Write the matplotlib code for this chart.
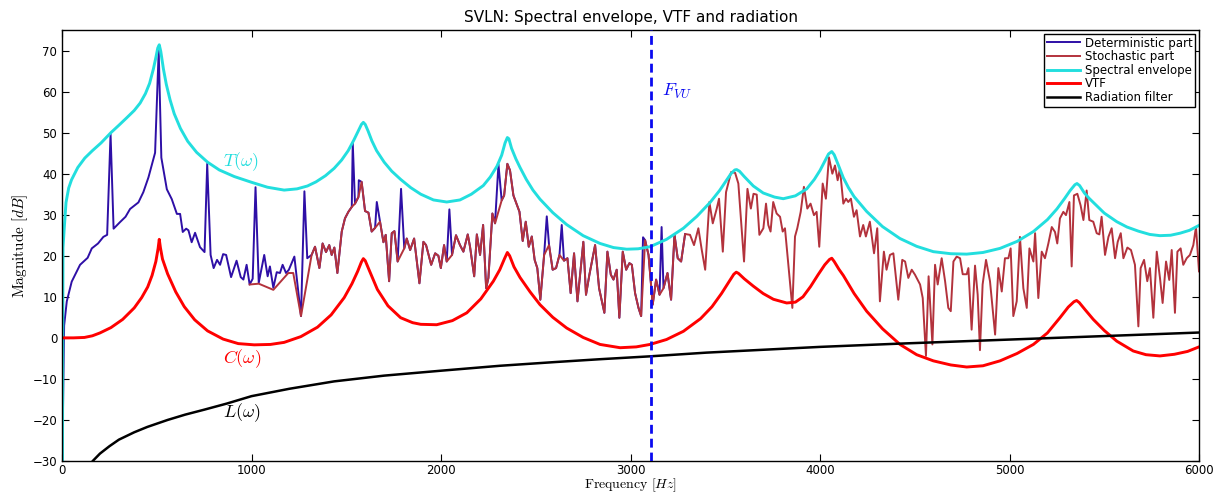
import numpy as np
import matplotlib
matplotlib.use('Agg')
import matplotlib.pyplot as plt

plt.rcParams['font.family'] = ['DejaVu Sans']
plt.rcParams['mathtext.fontset'] = 'cm'

# voiced/unvoiced limit frequency [Hz]
F_VU = 3110

# deterministic part below 1320 Hz (Hz, dB)
det_low = [(0, -35), (11, 3), (25, 8.9), (51, 13.7), (95, 17.8), (135, 19.5), (157, 21.8),
           (190, 23), (218, 24.6), (238, 25.1), (256, 49.7), (272, 26.6), (306, 28.2),
           (335, 29.5), (359, 31.4), (403, 33), (429, 35.5), (456, 39.1), (491, 45.1),
           (510, 70), (524, 43.9), (553, 36.2), (579, 33.8), (606, 30.2), (623, 30.2),
           (637, 25.8), (655, 26.6), (667, 26.2), (684, 23.3), (702, 25.6), (728, 22.1),
           (752, 20.9), (766, 42.4), (784, 20.2), (800, 17), (818, 19), (834, 17.8),
           (850, 20.4), (866, 20.2), (892, 14.8), (921, 18.8), (943, 14.8), (957, 14.2),
           (974, 17.8), (990, 13), (1006, 14.4), (1021, 36.7), (1038, 13.4), (1067, 20.2),
           (1085, 15), (1097, 17.4), (1115, 12.2), (1133, 16), (1150, 15.8), (1164, 17.8),
           (1182, 15.8), (1197, 16.6), (1226, 19.8), (1261, 5.3), (1279, 35.7), (1294, 19.4),
           (1317, 20.2)]

# harmonic peaks of the deterministic part above 1320 Hz
det_peaks = [(1534, 47.6), (1566, 38.4), (1661, 33.1), (1789, 36.3), (2044, 31.3),
             (2303, 42.3), (2558, 29.6), (2637, 27.5), (3066, 24.5), (3164, 27)]

# stochastic part (Hz, dB)
stoch = [(990, 13), (1038, 13.2), (1115, 11.7), (1194, 15.8), (1220, 15.8), (1261, 5.3),
         (1317, 20.2), (1335, 22.2), (1358, 17), (1375, 23), (1393, 20.9), (1410, 22.6),
         (1423, 20.2), (1437, 22), (1453, 15.8), (1476, 25.9), (1493, 29.1), (1511, 30.7),
         (1529, 31.9), (1546, 32.7), (1564, 34.3), (1581, 38), (1599, 30.9), (1617, 30.5),
         (1634, 25.9), (1652, 26.8), (1678, 28.3), (1696, 23.3), (1708, 25.1), (1726, 13.8),
         (1740, 25.5), (1754, 26), (1771, 18.6), (1806, 21.8), (1819, 24.2), (1837, 21.4),
         (1858, 24.2), (1886, 13.3), (1907, 23.4), (1921, 22.6), (1948, 17.8), (1969, 20.6),
         (1986, 20), (1999, 17), (2016, 22.6), (2030, 18.6), (2058, 20.2), (2079, 25),
         (2100, 22.6), (2118, 21), (2141, 25.2), (2153, 22.2), (2175, 15), (2189, 25.2),
         (2206, 20.2), (2222, 27.5), (2238, 12.1), (2250, 14.6), (2271, 30.3), (2285, 27.9),
         (2320, 33.5), (2333, 34.7), (2350, 42.4), (2364, 40.8), (2382, 34.7), (2414, 30.7),
         (2431, 23.6), (2447, 28.3), (2463, 22.2), (2479, 24.7), (2494, 19), (2508, 17),
         (2524, 9.3), (2544, 20.2), (2570, 22.6), (2589, 16.6), (2607, 17), (2625, 20.2),
         (2649, 18.8), (2667, 19.4), (2684, 10.9), (2702, 20.6), (2720, 8.9), (2751, 23.4),
         (2765, 10.5), (2783, 15.4), (2813, 22.6), (2834, 12.1), (2862, 6.1), (2878, 21),
         (2896, 15.4), (2910, 14.2), (2927, 16.6), (2941, 4.9), (2959, 21), (2977, 16.6),
         (2994, 18.2), (3007, 17.8), (3024, 10.9), (3042, 7.3), (3056, 5.3), (3077, 23.8),
         (3095, 20.2), (3117, 8.1), (3135, 14.2), (3153, 10.5), (3174, 12.1), (3195, 15.8),
         (3214, 9.3), (3232, 25.1), (3249, 19.4), (3267, 18.6), (3288, 25.3), (3314, 25.1),
         (3335, 22.6), (3358, 26.7), (3376, 21.4), (3394, 16.6), (3416, 33.1), (3434, 27.9),
         (3455, 31.5), (3467, 33.9), (3487, 21), (3504, 35.5), (3531, 40.4), (3552, 40.2),
         (3569, 37.6), (3599, 18.6), (3617, 36.3), (3635, 31.5), (3649, 35.1), (3666, 34.9),
         (3680, 25.1), (3701, 26.7), (3715, 32.7), (3727, 27.5), (3739, 25.9), (3753, 33.1),
         (3771, 30.3), (3789, 29.5), (3803, 25.9), (3815, 26.7), (3854, 7.3), (3868, 24.7),
         (3880, 26.7), (3898, 30.7), (3915, 36.8), (3933, 31.5), (3950, 32.7), (3968, 29.9),
         (3982, 30.7), (3996, 22.2), (4014, 37.6), (4031, 33.9), (4047, 44), (4065, 40),
         (4079, 42), (4093, 38.4), (4105, 41.2), (4123, 32.7), (4137, 33.9), (4149, 33.1),
         (4163, 33.9), (4179, 29.5), (4193, 31.1), (4211, 24.7), (4228, 27.5), (4242, 24.7),
         (4263, 28.3), (4285, 20.6), (4302, 26.7), (4316, 8.9), (4337, 21), (4351, 16.6),
         (4369, 20.2), (4387, 20.6), (4413, 9.3), (4434, 19), (4449, 18.6), (4466, 14.6),
         (4484, 16.6), (4501, 15.4), (4528, 13), (4542, 9.7), (4559, -4.4), (4573, 15),
         (4593, -1.6), (4607, 17.8), (4621, 13), (4642, 19.4), (4660, 13.8), (4677, 7.3),
         (4690, 6.5), (4704, 18.6), (4721, 19.8), (4739, 19.4), (4753, 15.5), (4774, 15.5),
         (4783, 17), (4800, 2), (4818, 17.6), (4832, 10.5), (4844, -3), (4858, 13),
         (4876, 19), (4897, 13.8), (4924, 0.8), (4941, 17), (4959, 11.3), (4976, 19.4),
         (4994, 19.4), (5006, 21.8), (5020, 5.3), (5038, 8.9), (5055, 24.6), (5073, 12.1),
         (5091, 7.3), (5105, 21.8), (5126, 18.6), (5135, 25.5), (5152, 9.7), (5170, 21),
         (5187, 19.4), (5205, 23), (5223, 27), (5240, 25.8), (5252, 23), (5266, 29.1),
         (5284, 30.7), (5298, 29.9), (5316, 33.1), (5328, 17.4), (5340, 34.7), (5358, 35.1),
         (5375, 32.3), (5390, 28.7), (5407, 35.9), (5421, 28.7), (5442, 28.3), (5460, 25.5),
         (5474, 25.2), (5486, 29.5), (5504, 20.2), (5522, 24.6), (5539, 26.7), (5557, 19.4),
         (5571, 23.4), (5587, 25.5), (5601, 19.4), (5622, 22), (5641, 21.4), (5662, 17.8),
         (5680, 2.8), (5692, 17), (5710, 19), (5727, 13.8), (5741, 17), (5759, 4.9),
         (5777, 21), (5794, 14.6), (5808, 8.5), (5826, 18.6), (5843, 14.1), (5856, 21.4),
         (5873, 6.1), (5886, 21), (5903, 21.8), (5917, 17.8), (5935, 19.4), (5952, 20.2),
         (5970, 22.6), (5984, 27), (6000, 16.2)]

# spectral envelope T(w)
envelope = [(2, -35), (5, 22), (12, 27), (21, 33), (35, 36.5), (50, 38.5), (83, 41.5),
            (120, 43.8), (160, 45.6), (206, 47.5), (258, 50), (300, 51.8), (341, 53.6),
            (381, 55.4), (412, 57.2), (440, 59.5), (462, 62), (482, 65.5), (496, 68.5),
            (505, 70.6), (513, 71.4), (521, 69.8), (535, 65.5), (550, 61.8), (570, 58),
            (592, 54.6), (625, 51), (663, 47.9), (710, 45.2), (768, 42.8), (830, 40.9),
            (909, 39.3), (1000, 37.9), (1084, 36.7), (1172, 36), (1240, 36.3), (1295, 37),
            (1340, 38), (1390, 39.5), (1436, 41.3), (1475, 43.3), (1510, 45.6), (1540, 48.2),
            (1565, 50.6), (1580, 52), (1590, 52.5), (1600, 52), (1615, 50.4), (1635, 48),
            (1660, 45.6), (1700, 42.8), (1740, 40.6), (1787, 38.6), (1840, 36.6), (1893, 35),
            (1960, 33.6), (2030, 33.1), (2100, 33.6), (2160, 35), (2223, 37.1), (2260, 39.2),
            (2295, 41.8), (2320, 44.5), (2338, 47.5), (2350, 48.8), (2358, 48.5), (2372, 46.2),
            (2395, 43.6), (2417, 41.5), (2450, 38.6), (2485, 36), (2522, 33.8), (2590, 30.5),
            (2663, 27.6), (2750, 24.9), (2839, 23), (2910, 22), (2980, 21.6), (3040, 21.7),
            (3103, 22.2), (3190, 24), (3279, 26.7), (3350, 29.6), (3420, 33), (3470, 35.9),
            (3505, 38.3), (3530, 40), (3550, 40.9), (3560, 41), (3575, 40.6), (3600, 39.3),
            (3648, 37), (3700, 35.3), (3760, 34.3), (3806, 33.9), (3870, 34.6), (3930, 36.3),
            (3970, 38.6), (4000, 40.8), (4025, 43), (4045, 44.8), (4062, 45.4), (4075, 44.6),
            (4095, 42.3), (4123, 39), (4150, 36.6), (4180, 34.4), (4246, 30.8), (4330, 27.1),
            (4422, 24.2), (4510, 22.3), (4598, 21), (4690, 20.5), (4774, 20.4), (4860, 20.8),
            (4950, 21.8), (5040, 23.5), (5126, 25.9), (5200, 28.8), (5250, 31.4), (5290, 33.9),
            (5320, 35.9), (5345, 37.3), (5356, 37.6), (5370, 37.1), (5395, 35.3), (5420, 34),
            (5442, 33), (5500, 30.4), (5566, 28.3), (5620, 27), (5680, 26), (5740, 25.2),
            (5794, 24.9), (5850, 25), (5900, 25.5), (5950, 26.2), (6000, 27.4)]

# vocal tract filter C(w)
vtf = [(0, 0), (60, 0), (118, 0.1), (160, 0.5), (200, 1.2), (258, 2.5), (320, 4.5), (381, 7.3),
       (420, 9.8), (452, 12.4), (475, 15.2), (495, 18.6), (507, 21.8), (513, 24), (519, 22),
       (530, 19.2), (557, 15.6), (600, 11.2), (645, 7.6), (700, 4.4), (768, 1.7), (850, -0.3),
       (930, -1.4), (1014, -1.7), (1100, -1.6), (1172, -1.1), (1260, 0.3), (1348, 2.6),
       (1420, 5.6), (1489, 9.8), (1530, 13.2), (1560, 16.2), (1580, 18.5), (1590, 19.3),
       (1600, 18.8), (1620, 16.6), (1664, 11.8), (1720, 7.8), (1787, 4.9), (1850, 3.7),
       (1893, 3.3), (1977, 3.2), (2060, 4.2), (2136, 6.1), (2210, 9.5), (2276, 13.8),
       (2310, 16.6), (2335, 19.3), (2350, 20.8), (2362, 20), (2385, 17.3), (2417, 14.7),
       (2470, 11.2), (2522, 8.1), (2590, 5), (2663, 2.4), (2750, 0.1), (2839, -1.6),
       (2945, -2.4), (3030, -2.2), (3103, -1.6), (3190, -0.4), (3279, 1.6), (3370, 4.7),
       (3430, 7.6), (3480, 10.8), (3520, 13.7), (3545, 15.5), (3558, 16), (3570, 15.7),
       (3600, 14.4), (3648, 12.6), (3700, 10.8), (3754, 9.4), (3824, 8.5), (3870, 8.7),
       (3910, 10), (3950, 12.5), (3990, 15.4), (4025, 17.8), (4050, 19.1), (4062, 19.4),
       (4075, 18.6), (4100, 16.7), (4123, 15.2), (4180, 10.8), (4246, 6.5), (4330, 2.2),
       (4422, -1.6), (4510, -4.1), (4598, -5.6), (4690, -6.6), (4774, -7.1), (4860, -6.8),
       (4950, -5.6), (5040, -3.8), (5126, -1.6), (5200, 1.2), (5266, 4.9), (5310, 7.5),
       (5340, 8.8), (5354, 9.1), (5368, 8.6), (5400, 6.8), (5442, 4.5), (5500, 1.8),
       (5566, -0.8), (5653, -3.2), (5720, -4.1), (5794, -4.4), (5870, -4), (5940, -3.3),
       (6000, -2.2)]

# radiation filter L(w)
radiation = [(20, -48), (50, -40), (80, -36), (110, -33.2), (162, -30), (200, -28.2),
             (250, -26.4), (300, -24.8), (381, -23), (450, -21.7), (557, -20), (650, -18.7),
             (750, -17.5), (870, -16), (1000, -14.2), (1200, -12.4), (1436, -10.6),
             (1700, -9.2), (2000, -8), (2311, -6.8), (2600, -5.9), (2839, -5.2), (3103, -4.5),
             (3400, -3.6), (3700, -2.9), (4000, -2.2), (4422, -1.4), (4950, -0.5), (5478, 0.4),
             (6000, 1.3)]


def unzip(pts):
    a = np.array(pts, dtype=float)
    return a[:, 0], a[:, 1]


# deterministic part above 1320 Hz follows the stochastic part plus the harmonic peaks
upper = [p for p in stoch if det_low[-1][0] < p[0] <= 3300] + det_peaks
det = det_low + sorted(upper)

fig = plt.figure(figsize=(12.19, 4.92), dpi=100)
ax = fig.add_axes([0.0509, 0.063, 0.9327, 0.876])

ax.plot(*unzip(det), color='#2e0fa6', lw=1.4, label='Deterministic part')
ax.plot(*unzip(stoch), color='#b3323c', lw=1.4, label='Stochastic part')
ax.plot(*unzip(envelope), color='#22dede', lw=2.1, label='Spectral envelope')
ax.plot(*unzip(vtf), color='#ff0000', lw=2.1, label='VTF')
ax.plot(*unzip(radiation), color='black', lw=1.8, label='Radiation filter')
ax.axvline(F_VU, color='#0a0af0', lw=2.0, ls=(0, (3.2, 1.8)), zorder=5)

ax.text(848, 43, r'$T(\omega)$', color='#22dede', fontsize=13, va='center')
ax.text(848, -5.1, r'$C(\omega)$', color='#ff0000', fontsize=13, va='center')
ax.text(848, -18.1, r'$L(\omega)$', color='black', fontsize=13, va='center')
ax.text(3165, 60, r'$F_{VU}$', color='#0a0af0', fontsize=13, va='center')

ax.set_xlim(0, 6000)
ax.set_ylim(-30, 75)
ax.set_xticks(np.arange(0, 6001, 1000))
ax.set_yticks(np.arange(-30, 71, 10))
ax.tick_params(direction='in', length=5, top=True, right=True, labelsize=8.5)
ax.tick_params(axis='x', pad=2.5)
for s in ax.spines.values():
    s.set_linewidth(1.0)

ax.set_title('SVLN: Spectral envelope, VTF and radiation', fontsize=11, pad=6)
ax.set_xlabel(r'$\mathrm{Frequency}\ [Hz]$', fontsize=10, labelpad=-1)
ax.set_ylabel(r'$\mathrm{Magnitude}\ [dB]$', fontsize=11, labelpad=2)

leg = ax.legend(loc='upper right', fontsize=8.5, fancybox=False, edgecolor='black',
                framealpha=1, borderaxespad=0.3, borderpad=0.25, labelspacing=0.05,
                handlelength=2.8, handletextpad=0.4)
leg.get_frame().set_linewidth(1.0)

fig.savefig('out.png', dpi=100)
